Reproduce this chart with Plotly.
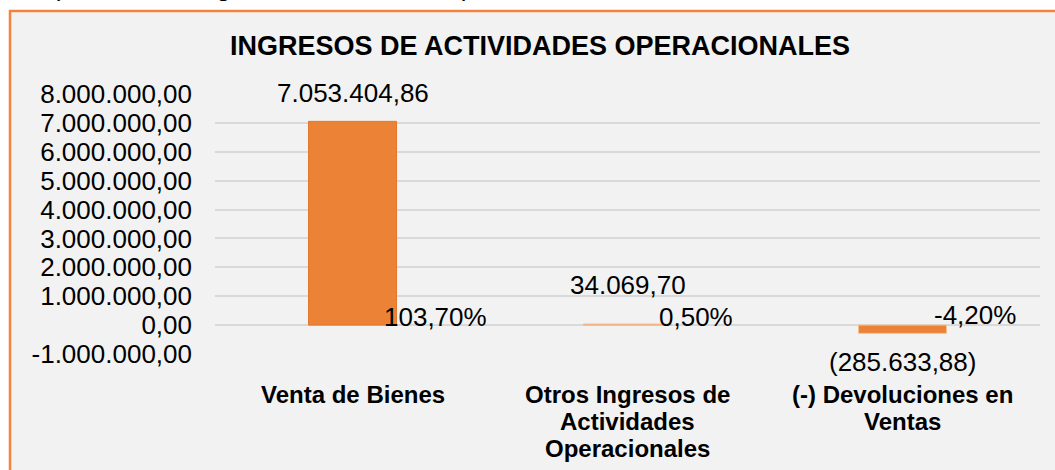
import plotly.graph_objects as go

# ---- data ----
categories = ["Venta de Bienes",
              "Otros Ingresos de<br>Actividades<br>Operacionales",
              "(-) Devoluciones en<br>Ventas"]
values = [7053404.86, 34069.70, -285633.88]
percents = [103.70, 0.50, -4.20]
tick_values = [-1000000, 0, 1000000, 2000000, 3000000, 4000000,
               5000000, 6000000, 7000000, 8000000]

title_text = "INGRESOS DE ACTIVIDADES OPERACIONALES"
caption_text = "Composición de Ingresos Actividades Operacionales 2019"

# ---- styling ----
value_label_shift = [11, 22, -12]     # px offset of value labels
pct_label_shift = [8, 8, 10]
bar_colors = ["#EB8236", "#F4B183", "#EB8236"]
bar_lines = ["#E5772C", "#F4B183", "#F6C08F"]


def fmt_num(v):
    s = f"{abs(v):,.2f}".replace(",", "X").replace(".", ",").replace("X", ".")
    return ("-" + s) if v < 0 else s


def fmt_es(v):
    s = f"{abs(v):,.2f}".replace(",", "X").replace(".", ",").replace("X", ".")
    return f"({s})" if v < 0 else s


def fmt_pct(p):
    return f"{p:.2f}".replace(".", ",") + "%"


L, R, T, B = 215, 15, 94, 116
W, H = 1055, 470
pw, ph = W - L - R, H - T - B


def px_x(p):
    return (p - L) / pw


def px_y(p):
    return (H - B - p) / ph


fig = go.Figure()
fig.add_trace(go.Bar(
    x=categories, y=values, width=0.32,
    marker=dict(color=bar_colors, line=dict(color=bar_lines, width=1)),
    hoverinfo="skip",
))

font_family = "Liberation Sans, Arial, sans-serif"

annotations = []
for c, v, s in zip(categories, values, value_label_shift):
    annotations.append(dict(
        x=c, y=v, xref="x", yref="y", text=fmt_es(v), showarrow=False,
        yanchor="bottom" if v >= 0 else "top", yshift=s,
        font=dict(size=26, color="#000000", family=font_family)))
for c, p, s in zip(categories, percents, pct_label_shift):
    annotations.append(dict(
        x=c, y=0, xref="x", yref="y", text=fmt_pct(p), showarrow=False,
        xanchor="left", yanchor="middle", xshift=29, yshift=s,
        font=dict(size=26, color="#000000", family=font_family)))

# category labels, line by line (Excel-like line spacing)
for c in categories:
    for i, line in enumerate(c.split("<br>")):
        annotations.append(dict(
            x=c, y=px_y(394 + 27 * i), xref="x", yref="paper",
            text="<b>" + line + "</b>", showarrow=False,
            xanchor="center", yanchor="middle",
            font=dict(size=24, color="#000000", family=font_family)))

annotations.append(dict(
    x=px_x(540), y=px_y(46), xref="paper", yref="paper", text="<b>" + title_text + "</b>",
    showarrow=False, xanchor="center", yanchor="middle",
    font=dict(size=27, color="#000000", family=font_family)))

annotations.append(dict(
    x=px_x(678), y=px_y(4), xref="paper", yref="paper", text=caption_text,
    showarrow=False, xanchor="right", yanchor="bottom",
    font=dict(size=26, color="#000000", family=font_family, style="italic")))

shapes = [dict(
    type="rect", xref="paper", yref="paper", layer="below",
    x0=px_x(10), x1=px_x(1070), y0=px_y(485), y1=px_y(11),
    fillcolor="#F2F2F2", line=dict(color="#F0843C", width=2.5))]

fig.update_layout(
    width=W, height=H,
    margin=dict(l=L, r=R, t=T, b=B, pad=0, autoexpand=False),
    paper_bgcolor="#FFFFFF", plot_bgcolor="rgba(0,0,0,0)",
    showlegend=False,
    annotations=annotations,
    shapes=shapes,
    font=dict(family=font_family, color="#000000"),
)
fig.update_yaxes(
    range=[-1000000, 8000000], tickvals=tick_values,
    ticktext=[fmt_num(t) for t in tick_values],
    showgrid=True, gridcolor="#D9D9D9", gridwidth=1.5,
    zeroline=True, zerolinecolor="#D9D9D9", zerolinewidth=1.5,
    showline=False, ticks="", ticklabelstandoff=22, automargin=False,
    tickfont=dict(size=26, color="#000000", family=font_family),
)
fig.update_xaxes(
    showgrid=False, showline=False, ticks="", showticklabels=False,
    automargin=False,
)

fig.write_html("out.html",
               config={"displayModeBar": False},
               post_script="document.body.style.margin='0';document.body.style.overflow='hidden';")
